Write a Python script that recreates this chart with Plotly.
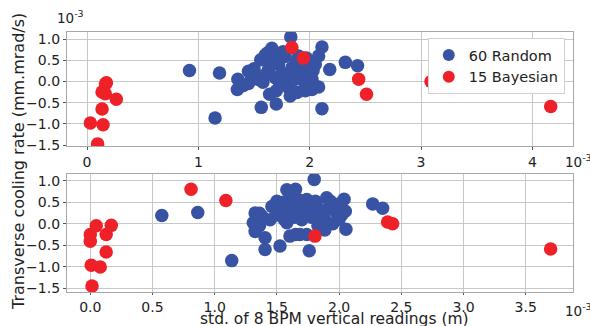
import plotly.graph_objects as go
from plotly.subplots import make_subplots

# ---- data (values in units of 1e-3) ----
top_random_x = [0.92, 1.19, 1.15, 1.355, 1.35, 1.40, 1.45, 1.48, 1.54, 1.56,
                1.60, 1.62, 1.66, 1.83, 1.565, 1.64, 1.70, 1.70, 1.825, 1.60,
                1.63, 1.69, 1.72, 1.78, 1.78, 1.84, 1.81, 1.87, 1.885, 1.93,
                1.96, 1.96, 1.99, 1.97, 2.02, 2.02, 2.05, 2.05, 2.08, 2.11,
                2.11, 2.18, 2.32, 2.43, 1.50, 1.67, 1.75, 1.88, 1.92, 2.00,
                1.73, 1.58, 1.90, 2.08, 1.45, 1.76, 1.68, 1.95, 2.03, 1.85]
top_random_y = [0.26, 0.20, -0.86, 0.05, -0.19, -0.10, 0.24, 0.10, 0.05, 0.51,
                0.62, 0.67, 0.78, 1.05, -0.61, -0.30, -0.53, -0.22, -0.34, 0.16,
                0.28, 0.09, 0.40, 0.09, 0.59, 0.32, -0.15, 0.05, -0.26, 0.24,
                -0.11, -0.22, 0.32, 0.55, 0.05, -0.19, -0.11, 0.40, -0.13, 0.81,
                -0.64, 0.28, 0.45, 0.37, 0.30, 0.45, 0.20, 0.45, 0.10, 0.15,
                -0.05, -0.02, 0.60, 0.60, -0.05, 0.70, 0.62, 0.38, 0.25, 0.15]
top_bayes_x = [0.174, 0.165, 0.135, 0.164, 0.263, 0.135, 0.03, 0.144, 0.095,
               1.84, 1.944, 2.44, 2.51, 3.09, 4.165]
top_bayes_y = [-0.03, -0.06, -0.25, -0.29, -0.42, -0.65, -0.98, -1.02, -1.47,
               0.80, 0.55, 0.05, -0.30, 0.0, -0.59]

bot_random_x = [0.575, 0.864, 1.137, 1.80, 1.58, 1.65, 1.605, 1.50, 1.74, 1.81,
                1.93, 2.04, 2.05, 1.98, 1.90, 1.85, 1.77, 1.685, 1.605, 1.525,
                1.325, 1.38, 1.31, 1.445, 1.58, 1.70, 1.885, 1.325, 1.405, 1.605,
                1.685, 1.74, 1.885, 2.055, 1.405, 1.525, 1.76, 2.27, 2.35, 1.36,
                1.35, 1.62, 1.72, 1.82, 1.95, 2.00, 1.78, 1.64, 1.50, 1.46,
                1.90, 1.99, 2.02, 1.55, 1.68, 1.83, 1.95, 1.36, 1.65, 1.56]
bot_random_y = [0.19, 0.26, -0.86, 1.03, 0.79, 0.80, 0.63, 0.52, 0.56, 0.52,
                0.52, 0.57, 0.29, 0.25, 0.32, 0.21, 0.32, 0.29, 0.36, 0.32,
                0.25, 0.17, 0.02, 0.09, 0.02, 0.09, 0.09, -0.18, -0.33, -0.29,
                -0.25, -0.25, -0.15, -0.13, -0.60, -0.52, -0.63, 0.46, 0.36, 0.24,
                0.05, 0.70, 0.45, 0.40, 0.40, 0.10, 0.15, 0.15, 0.20, 0.40,
                0.60, 0.45, 0.20, 0.50, 0.55, -0.05, 0.00, -0.05, -0.25, 0.10]
bot_bayes_x = [0.048, 0.169, 0.0, 0.128, 0.0, 0.128, 0.008, 0.08, 0.014,
               0.81, 1.09, 1.806, 2.39, 2.43, 3.70]
bot_bayes_y = [-0.05, -0.04, -0.25, -0.25, -0.41, -0.66, -0.97, -1.01, -1.45,
               0.80, 0.54, -0.29, 0.04, 0.0, -0.59]

top_xticks = [0, 1, 2, 3, 4]
bot_xticks = [0.0, 0.5, 1.0, 1.5, 2.0, 2.5, 3.0, 3.5]
yticks = [-1.5, -1.0, -0.5, 0.0, 0.5, 1.0]

BLUE = "#3953a4"
RED = "#ee2128"
FONT = "DejaVu Sans"

fig = make_subplots(rows=2, cols=1, vertical_spacing=0.1)

mk = dict(size=13.5, line=dict(width=0))
fig.add_trace(go.Scatter(x=top_random_x, y=top_random_y, mode="markers",
                         marker=dict(color=BLUE, **mk), name="60 Random"), row=1, col=1)
fig.add_trace(go.Scatter(x=top_bayes_x, y=top_bayes_y, mode="markers",
                         marker=dict(color=RED, **mk), name="15 Bayesian"), row=1, col=1)
fig.add_trace(go.Scatter(x=bot_random_x, y=bot_random_y, mode="markers",
                         marker=dict(color=BLUE, **mk), showlegend=False), row=2, col=1)
fig.add_trace(go.Scatter(x=bot_bayes_x, y=bot_bayes_y, mode="markers",
                         marker=dict(color=RED, **mk), showlegend=False), row=2, col=1)

axis_style = dict(showline=True, mirror=True, linecolor="#a8a8a8", linewidth=1.2,
                  showgrid=True, gridcolor="#c8c8c8", gridwidth=1.3, zeroline=False,
                  ticks="outside", ticklen=3, tickcolor="#555555", tickwidth=1,
                  tickfont=dict(family=FONT, size=14, color="#222222"))

fig.update_xaxes(**axis_style)
fig.update_yaxes(**axis_style)

fig.update_xaxes(row=1, col=1, range=[-0.18, 4.365], tickvals=top_xticks,
                 ticktext=[str(t) for t in top_xticks])
fig.update_xaxes(row=2, col=1, range=[-0.187, 3.88], tickvals=bot_xticks,
                 ticktext=[f"{t:.1f}" for t in bot_xticks], ticklen=2)
ytext = [f"{t:.1f}".replace("-", "\u2212") for t in yticks]
fig.update_yaxes(row=1, col=1, range=[-1.52, 1.165], tickvals=yticks, ticktext=ytext)
fig.update_yaxes(row=2, col=1, range=[-1.59, 1.155], tickvals=yticks, ticktext=ytext)

# domains to match reference layout
fig.update_layout(
    yaxis=dict(domain=[0.5615, 1.0]),
    yaxis2=dict(domain=[0.0, 0.4538]),
)

fig.update_layout(
    width=590, height=326,
    margin=dict(l=67, r=17, t=32, b=34),
    paper_bgcolor="white", plot_bgcolor="white",
    font=dict(family=FONT, color="#222222"),
    legend=dict(x=0.713, y=0.977, xanchor="left", yanchor="top",
                bgcolor="white", bordercolor="#d0d0d0", borderwidth=1,
                font=dict(family=FONT, size=14.5, color="#222222"),
                itemsizing="constant", tracegroupgap=0),
)

ann_font = dict(family=FONT, size=13.5, color="#222222")
fig.add_annotation(text="10<sup>-3</sup>", xref="paper", yref="paper",
                   x=(55 - 67) / 506, y=(292 - 17) / 260, xanchor="left", yanchor="middle",
                   showarrow=False, font=ann_font)
fig.add_annotation(text="10<sup>-3</sup>", xref="paper", yref="paper",
                   x=(563 - 67) / 506, y=(292 - 161) / 260, xanchor="left", yanchor="middle",
                   showarrow=False, font=ann_font)
fig.add_annotation(text="10<sup>-3</sup>", xref="paper", yref="paper",
                   x=(563 - 67) / 506, y=(292 - 310) / 260, xanchor="left", yanchor="middle",
                   showarrow=False, font=ann_font)
fig.add_annotation(text="Transverse cooling rate (mm.mrad/s)", xref="paper", yref="paper",
                   x=(18 - 67) / 506, y=(292 - 162) / 260, xanchor="center", yanchor="middle",
                   textangle=-90, showarrow=False,
                   font=dict(family=FONT, size=16, color="#222222"))
fig.add_annotation(text="std. of 8 BPM vertical readings (m)", xref="paper", yref="paper",
                   x=(334 - 67) / 506, y=(292 - 318.5) / 260, xanchor="center", yanchor="middle",
                   showarrow=False, font=dict(family=FONT, size=15.5, color="#222222"))

fig.write_html("out.html")
